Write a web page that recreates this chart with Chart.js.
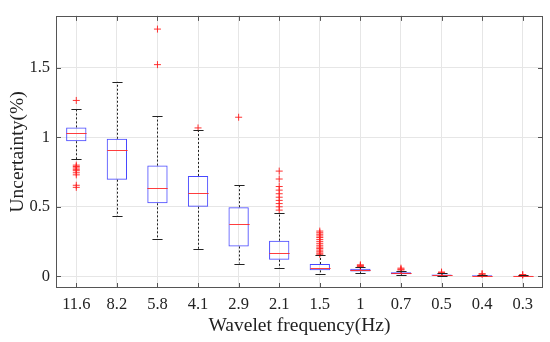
<!DOCTYPE html>
<html>
<head>
<meta charset="utf-8">
<script src="https://cdn.jsdelivr.net/npm/chart.js@4"></script>
<style>
  html, body { margin: 0; padding: 0; background: #fff; }
  #wrap { width: 550px; height: 342px; }
</style>
</head>
<body>
<div id="wrap"><canvas id="boxChart"></canvas></div>
<script>
// wavelet frequencies (Hz) on the x axis
const categories = ['11.6', '8.2', '5.8', '4.1', '2.9', '2.1', '1.5', '1', '0.7', '0.5', '0.4', '0.3'];

// box statistics, uncertainty (%)
const whiskerLow  = [0.841, 0.432, 0.270, 0.193, 0.091, 0.056, 0.014, 0.023, 0.008, 0.002, 0.001, 0.000];
const q1          = [0.972, 0.695, 0.525, 0.500, 0.214, 0.118, 0.042, 0.033, 0.014, 0.004, 0.002, 0.001];
const median      = [1.030, 0.908, 0.632, 0.599, 0.374, 0.170, 0.058, 0.044, 0.020, 0.007, 0.004, 0.002];
const q3          = [1.072, 0.990, 0.797, 0.722, 0.497, 0.256, 0.088, 0.054, 0.028, 0.012, 0.007, 0.004];
const whiskerHigh = [1.205, 1.400, 1.152, 1.050, 0.660, 0.455, 0.155, 0.065, 0.040, 0.020, 0.012, 0.008];

// outliers per category
const outliers = [
  [1.266, 0.800, 0.790, 0.780, 0.770, 0.760, 0.745, 0.730, 0.655, 0.640],
  [],
  [1.780, 1.524],
  [1.068],
  [1.145],
  [0.757, 0.700, 0.646, 0.620, 0.594, 0.569, 0.546, 0.523, 0.500, 0.476],
  [0.325, 0.313, 0.302, 0.290, 0.279, 0.265, 0.251, 0.237, 0.223, 0.210, 0.200, 0.188, 0.176, 0.166, 0.158],
  [0.082, 0.076, 0.070],
  [0.058, 0.050, 0.045],
  [0.030, 0.025, 0.020],
  [0.018, 0.014],
  [0.012, 0.008]
];

const yTickValues = [0, 0.5, 1, 1.5];
const yMin = -0.085;
const yMax = 1.875;

const serif = '"Liberation Serif", "DejaVu Serif", serif';

// whiskers, caps, medians, frame and inward tick marks
const boxExtras = {
  id: 'boxExtras',
  afterDatasetsDraw(chart) {
    const ctx = chart.ctx;
    const x = chart.scales.x;
    const y = chart.scales.y;
    const area = chart.chartArea;
    const step = x.getPixelForValue(1) - x.getPixelForValue(0);
    const halfBox = step * 0.25;
    const halfCap = step * 0.125;

    ctx.save();
    categories.forEach((c, i) => {
      const cx = Math.round(x.getPixelForValue(i)) + 0.5;
      // dashed whiskers
      ctx.strokeStyle = '#222';
      ctx.lineWidth = 1;
      ctx.setLineDash([2, 2]);
      ctx.beginPath();
      ctx.moveTo(cx, y.getPixelForValue(q3[i]));
      ctx.lineTo(cx, y.getPixelForValue(whiskerHigh[i]));
      ctx.moveTo(cx, y.getPixelForValue(q1[i]));
      ctx.lineTo(cx, y.getPixelForValue(whiskerLow[i]));
      ctx.stroke();
      // caps
      ctx.setLineDash([]);
      ctx.beginPath();
      [whiskerHigh[i], whiskerLow[i]].forEach(v => {
        const py = Math.round(y.getPixelForValue(v)) + 0.5;
        ctx.moveTo(cx - halfCap, py);
        ctx.lineTo(cx + halfCap, py);
      });
      ctx.stroke();
      // median
      ctx.strokeStyle = 'rgba(255, 40, 40, 0.9)';
      ctx.beginPath();
      const my = Math.round(y.getPixelForValue(median[i])) + 0.5;
      ctx.moveTo(cx - halfBox, my);
      ctx.lineTo(cx + halfBox, my);
      ctx.stroke();
    });

    // frame
    ctx.strokeStyle = '#555';
    ctx.lineWidth = 1;
    ctx.strokeRect(Math.round(area.left) + 0.5, Math.round(area.top) + 0.5,
      Math.round(area.right - area.left) - 1, Math.round(area.bottom - area.top) - 1);

    // inward tick marks
    ctx.beginPath();
    categories.forEach((c, i) => {
      const cx = Math.round(x.getPixelForValue(i)) + 0.5;
      ctx.moveTo(cx, area.bottom);
      ctx.lineTo(cx, area.bottom - 5);
      ctx.moveTo(cx, area.top);
      ctx.lineTo(cx, area.top + 5);
    });
    yTickValues.forEach(v => {
      const py = Math.round(y.getPixelForValue(v)) + 0.5;
      ctx.moveTo(area.left, py);
      ctx.lineTo(area.left + 5, py);
      ctx.moveTo(area.right, py);
      ctx.lineTo(area.right - 5, py);
    });
    ctx.stroke();
    ctx.restore();
  }
};

const outlierPoints = categories.flatMap((c, i) => outliers[i].map(v => ({ x: c, y: v })));

new Chart(document.getElementById('boxChart'), {
  type: 'bar',
  data: {
    labels: categories,
    datasets: [
      {
        label: 'Box',
        data: categories.map((c, i) => [q1[i], q3[i]]),
        backgroundColor: 'rgba(0,0,0,0)',
        borderColor: 'rgba(40, 40, 255, 0.85)',
        borderWidth: 1,
        borderSkipped: false,
        barPercentage: 0.5,
        categoryPercentage: 1,
        grouped: false,
        order: 2
      },
      {
        type: 'scatter',
        label: 'Outliers',
        data: outlierPoints,
        pointStyle: 'cross',
        radius: 3.5,
        borderWidth: 1,
        borderColor: 'rgba(255, 30, 30, 0.9)',
        backgroundColor: 'rgba(255, 30, 30, 0.9)',
        order: 1
      }
    ]
  },
  options: {
    responsive: true,
    maintainAspectRatio: false,
    animation: false,
    layout: { padding: { top: 8, right: 7, left: 0, bottom: 0 } },
    plugins: {
      legend: { display: false },
      tooltip: { enabled: false }
    },
    scales: {
      x: {
        type: 'category',
        offset: true,
        grid: { offset: false, color: '#e6e6e6', drawTicks: false },
        border: { display: false },
        ticks: { color: '#222', padding: 7, font: { family: serif, size: 16.5 } },
        title: {
          display: true,
          text: 'Wavelet frequency(Hz)',
          color: '#222',
          font: { family: serif, size: 19.5 },
          padding: { top: 0, bottom: 4.5 }
        },
        afterFit: s => { s.height = 54; }
      },
      y: {
        min: yMin,
        max: yMax,
        grid: { color: '#e6e6e6', drawTicks: false },
        border: { display: false },
        afterBuildTicks: s => { s.ticks = yTickValues.map(v => ({ value: v })); },
        ticks: {
          color: '#222',
          padding: 6,
          font: { family: serif, size: 16.5 },
          callback: v => String(v)
        },
        title: {
          display: true,
          text: 'Uncertainty(%)',
          color: '#222',
          font: { family: serif, size: 19.5 },
          padding: { top: 6.5, bottom: 0 }
        },
        afterFit: s => { s.width = 56; }
      }
    }
  },
  plugins: [boxExtras]
});
</script>
</body>
</html>
